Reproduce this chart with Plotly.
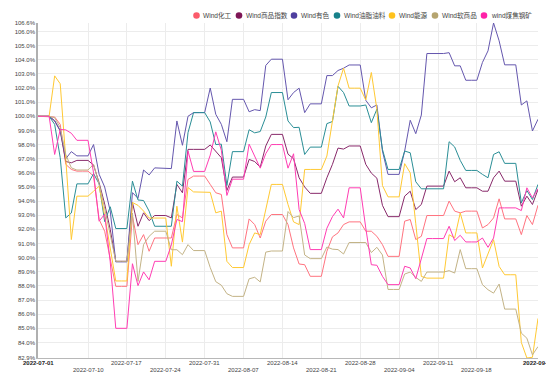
import plotly.graph_objects as go
import pandas as pd

# calendar days (weekends / holiday carry the previous close)
dates = pd.date_range("2022-07-01", "2022-09-29", freq="D").strftime("%Y-%m-%d").tolist()

names = ["Wind化工", "Wind商品指数", "Wind有色", "Wind油脂油料", "Wind能源", "Wind软商品", "wind煤焦钢矿"]
colors = ["#fb5b6b", "#7d1656", "#4e3f9f", "#17818a", "#ffc21c", "#b5a46f", "#ff22a8"]
line_colors = ["#ff737f", "#88296a", "#6557ae", "#2a8e96", "#ffc933", "#c3b386", "#ff3db3"]

hg = [100, 100, 100,
      99.95, 99.43, 96.6, 96.24, 96.12, 96.12, 96.12,
      95.77, 92.7, 91.87, 89.98, 87.97, 87.97, 87.97,
      92.93, 90.92, 91.63, 90.45, 91.39, 91.39, 91.39,
      91.39, 93.05, 92.81, 95.53, 95.77, 95.77, 95.77,
      95.18, 94.59, 94.47, 91.63, 90.69, 90.69, 90.69,
      92.74, 92.34, 91.39, 92.58, 93.05, 93.05, 93.05,
      92.34, 90.69, 89.55, 89.5, 88.68, 88.68, 88.68,
      90.45, 91.47, 91.75, 92.34, 92.53, 92.53, 92.53,
      91.87, 91.87, 91.51, 90.92, 90.09, 90.09, 90.09,
      92.58, 92.7, 91.28, 91.51, 92.98, 92.98, 92.98,
      92.98, 94.0, 93.29, 93.17, 93.29, 93.29, 93.29,
      92.1, 92.34, 92.81, 94.16, 92.74, 92.74, 92.74,
      91.63, 92.98, 92.34, 93.71]

spzs = [100, 100, 100,
        99.67, 98.96, 96.8, 96.71, 96.88, 96.88, 96.88,
        96.55, 95.3, 93.8, 92.0, 89.74, 89.74, 89.74,
        93.9, 92.22, 93.17, 92.62, 92.98, 92.98, 92.98,
        92.81, 95.18, 94.59, 97.66, 97.66, 97.66, 97.66,
        97.97, 97.54, 97.07, 94.75, 95.7, 95.7, 95.7,
        96.95, 96.8, 96.4, 97.9, 98.72, 98.72, 98.72,
        97.32, 97.0, 95.65, 95.0, 94.55, 94.55, 94.55,
        95.65, 96.6, 97.75, 97.68, 97.9, 97.9, 97.9,
        96.6, 95.98, 95.62, 93.7, 92.9, 92.9, 92.9,
        94.35, 94.7, 93.4, 93.76, 95.06, 95.06, 95.06,
        95.06, 96.12, 95.37, 95.65, 94.94, 94.94, 94.94,
        94.7, 94.7, 95.65, 96.12, 95.41, 95.41, 95.41,
        93.64, 94.35, 93.76, 94.82]

ys = [100, 100, 100,
      99.7, 99.0, 97.0, 97.5, 97.2, 97.2, 97.2,
      98.0, 95.9, 95.0, 93.3, 89.7, 89.7, 89.7,
      94.6, 94.2, 96.2, 95.85, 96.35, 96.35, 96.35,
      96.3, 99.67, 97.95, 100.0, 100.26, 100.26, 100.26,
      102.0, 100.14, 99.43, 98.2, 101.2, 101.2, 101.2,
      100.32, 100.47, 100.4, 103.6, 104.04, 104.04, 104.04,
      101.17, 101.68, 101.99, 100.26, 100.88, 100.88, 100.88,
      102.88, 102.88, 103.24, 103.4, 103.63, 103.63, 103.63,
      101.13, 100.6, 100.8, 97.54, 95.89, 95.89, 95.89,
      97.54, 99.72, 98.77, 100.09, 104.44, 104.44, 104.44,
      104.44, 104.5, 103.57, 103.57, 102.55, 102.55, 102.55,
      103.81, 104.63, 106.6, 105.34, 103.64, 103.64, 103.64,
      100.8, 101.09, 98.96, 99.79]

yzyl = [100, 100, 100,
        99.43, 97.07, 92.81, 93.16, 95.22, 95.22, 95.22,
        95.95, 95.22, 92.55, 93.6, 92.06, 92.06, 92.06,
        95.41, 94.08, 94.04, 93.29, 92.22, 92.22, 92.22,
        92.22, 95.41, 95.06, 98.84, 100.26, 100.26, 100.26,
        99.6, 98.0, 98.03, 95.1, 97.5, 97.5, 97.5,
        99.05, 98.83, 98.92, 99.95, 101.68, 101.68, 101.68,
        99.67, 99.2, 99.22, 97.3, 97.82, 97.82, 97.82,
        99.48, 99.63, 102.12, 101.68, 100.73, 100.73, 100.73,
        100.8, 99.55, 100.5, 97.66, 96.24, 96.24, 96.24,
        97.54, 97.42, 95.37, 94.87, 94.87, 94.87, 94.87,
        94.87, 98.2, 97.83, 96.88, 96.17, 96.17, 96.17,
        95.89, 95.65, 97.3, 97.49, 96.67, 96.67, 96.67,
        93.88, 94.75, 94.11, 95.18]

ny = [100, 100, 100,
      102.86, 102.3, 97.0, 91.28, 94.35, 94.35, 94.35,
      94.7, 95.05, 93.0, 90.6, 88.35, 88.35, 88.35,
      93.9, 93.7, 93.3, 92.8, 92.8, 92.8, 92.8,
      89.39, 93.64, 91.1, 94.96, 94.65, 94.65, 94.65,
      94.62, 93.17, 93.29, 89.74, 89.3, 89.3, 89.3,
      90.92, 91.75, 91.63, 93.52, 95.18, 95.18, 95.18,
      93.76, 92.53, 92.34, 96.24, 96.24, 96.24, 96.24,
      97.19, 99.67, 102.15, 103.4, 101.99, 101.99, 101.99,
      101.15, 103.1, 100.5, 95.1, 94.3, 94.3, 94.3,
      96.65, 96.0, 92.4, 88.67, 88.55, 88.55, 88.55,
      88.55, 91.62, 91.39, 93.16, 91.75, 91.75, 91.75,
      89.27, 90.3, 91.27, 89.38, 88.79, 88.79, 88.79,
      84.0, 82.9, 82.95, 85.7]

rsp = [100, 100, 100,
       99.9, 99.2, 97.3, 96.35, 96.2, 96.2, 96.2,
       96.6, 95.2, 93.5, 91.6, 89.74, 89.74, 89.74,
       93.16, 88.32, 90.92, 91.51, 91.87, 91.87, 91.87,
       90.56, 90.56, 90.21, 90.92, 90.5, 90.5, 90.5,
       89.3, 88.3, 88.05, 87.45, 87.26, 87.26, 87.26,
       88.5, 88.61, 88.28, 90.39, 90.47, 90.47, 90.47,
       93.26, 92.83, 92.95, 90.19, 89.93, 89.93, 89.93,
       90.75, 90.6, 90.57, 90.26, 91.07, 91.07, 91.07,
       91.07, 90.36, 90.73, 90.19, 87.75, 87.75, 87.75,
       88.84, 88.98, 88.6, 88.32, 88.98, 88.98, 88.98,
       88.98, 89.08, 88.91, 90.57, 89.22, 89.22, 89.22,
       88.09, 87.73, 87.49, 88.13, 86.36, 86.36, 86.36,
       84.66, 84.3, 83.12, 83.71]

mjgk = [100, 100, 100,
        97.3, 99.07, 99.04, 98.8, 98.3, 98.3, 98.3,
        96.0, 92.58, 93.07, 89.7, 85.0, 85.0, 85.0,
        89.57, 88.02, 88.99, 88.43, 89.74, 89.74, 89.74,
        90.9, 92.7, 92.55, 97.54, 96.1, 96.1, 96.1,
        97.25, 98.9, 97.6, 94.4, 95.55, 95.55, 95.55,
        98.03, 97.19, 96.33, 97.36, 98.0, 98.0, 98.0,
        96.33, 97.35, 93.4, 92.42, 90.57, 90.57, 90.57,
        92.08, 92.9, 93.43, 92.81, 94.94, 94.94, 94.94,
        92.1, 89.5, 89.46, 88.68, 88.09, 88.09, 88.09,
        89.39, 89.27, 88.51, 89.98, 91.35, 91.35, 91.35,
        91.35, 92.22, 91.21, 91.58, 91.11, 91.11, 91.11,
        91.39, 90.73, 91.39, 93.52, 93.52, 93.52, 93.52,
        93.33, 94.94, 94.23, 94.89]

series = [hg, spzs, ys, yzyl, ny, rsp, mjgk]
for s in series:
    assert len(s) == len(dates), len(s)

x_tick_vals = ["2022-07-01", "2022-07-10", "2022-07-17", "2022-07-24", "2022-07-31",
               "2022-08-07", "2022-08-14", "2022-08-21", "2022-08-28", "2022-09-04",
               "2022-09-11", "2022-09-18", "2022-09-29"]
y_min, y_max = 82.9, 106.6
y_tick_vals = [82.9] + list(range(84, 107)) + [106.6]

fig = go.Figure()
for name, vals, col in zip(names, series, line_colors):
    fig.add_trace(go.Scatter(x=dates, y=vals, mode="lines", name=name,
                             line=dict(color=col, width=1), showlegend=False))

L, R, T, B = 30, 24, 15, 22
W, H = 554, 372
pw, ph = W - L - R, H - T - B

def py_to_paper(py):
    return (H - B - py) / ph

# x tick labels placed as staggered rows (ends bold)
annotations = []
for i, d in enumerate(x_tick_vals):
    if i == 0 or i == len(x_tick_vals) - 1:
        txt, py, col = "<b>" + d + "</b>", 354.5, "#222"
    elif i % 2 == 1:
        txt, py, col = d, 362, "#444"
    else:
        txt, py, col = d, 355, "#444"
    annotations.append(dict(x=d, xref="x", y=py_to_paper(py), yref="paper",
                            text=txt, showarrow=False, xanchor="center", yanchor="middle",
                            font=dict(size=6, color=col)))

# custom legend (circle + text) across the top
leg_px = [188.5, 231, 286, 329, 384, 427, 476]
leg_py = 7.5
shapes = []
for px, name, col in zip(leg_px, names, colors):
    xp = (px - L) / pw
    yp = py_to_paper(leg_py)
    shapes.append(dict(type="circle", xref="paper", yref="paper", xsizemode="pixel",
                       ysizemode="pixel", xanchor=xp, yanchor=yp, x0=-3.3, x1=3.3,
                       y0=-3.3, y1=3.3, fillcolor=col, line=dict(width=0)))
    annotations.append(dict(x=(px + 4.5 - L) / pw, y=yp, xref="paper", yref="paper",
                            text=name, showarrow=False, xanchor="left", yanchor="middle",
                            font=dict(size=6.6, color="#444")))

fig.update_layout(
    width=W, height=H,
    margin=dict(l=L, r=R, t=T, b=B, pad=0, autoexpand=False),
    paper_bgcolor="white", plot_bgcolor="white",
    font=dict(family="Liberation Sans, Arial, Noto Sans CJK SC", size=6, color="#444"),
    showlegend=False,
    shapes=shapes, annotations=annotations,
    xaxis=dict(type="date", range=["2022-07-01", "2022-09-29"],
               tickvals=x_tick_vals, showticklabels=False,
               showgrid=True, gridcolor="#ececec", gridwidth=1,
               showline=True, linecolor="#b8b8b8", linewidth=1,
               ticks="", zeroline=False),
    yaxis=dict(range=[y_min, y_max], tickvals=y_tick_vals,
               ticktext=[f"{v:.1f}%" for v in y_tick_vals],
               showgrid=True, gridcolor="#ececec", gridwidth=1,
               showline=True, linecolor="#b0b0b0", linewidth=1.5,
               ticks="", tickfont=dict(size=6, color="#444"), zeroline=False),
    hovermode=False,
)

fig.write_html("out.html")
